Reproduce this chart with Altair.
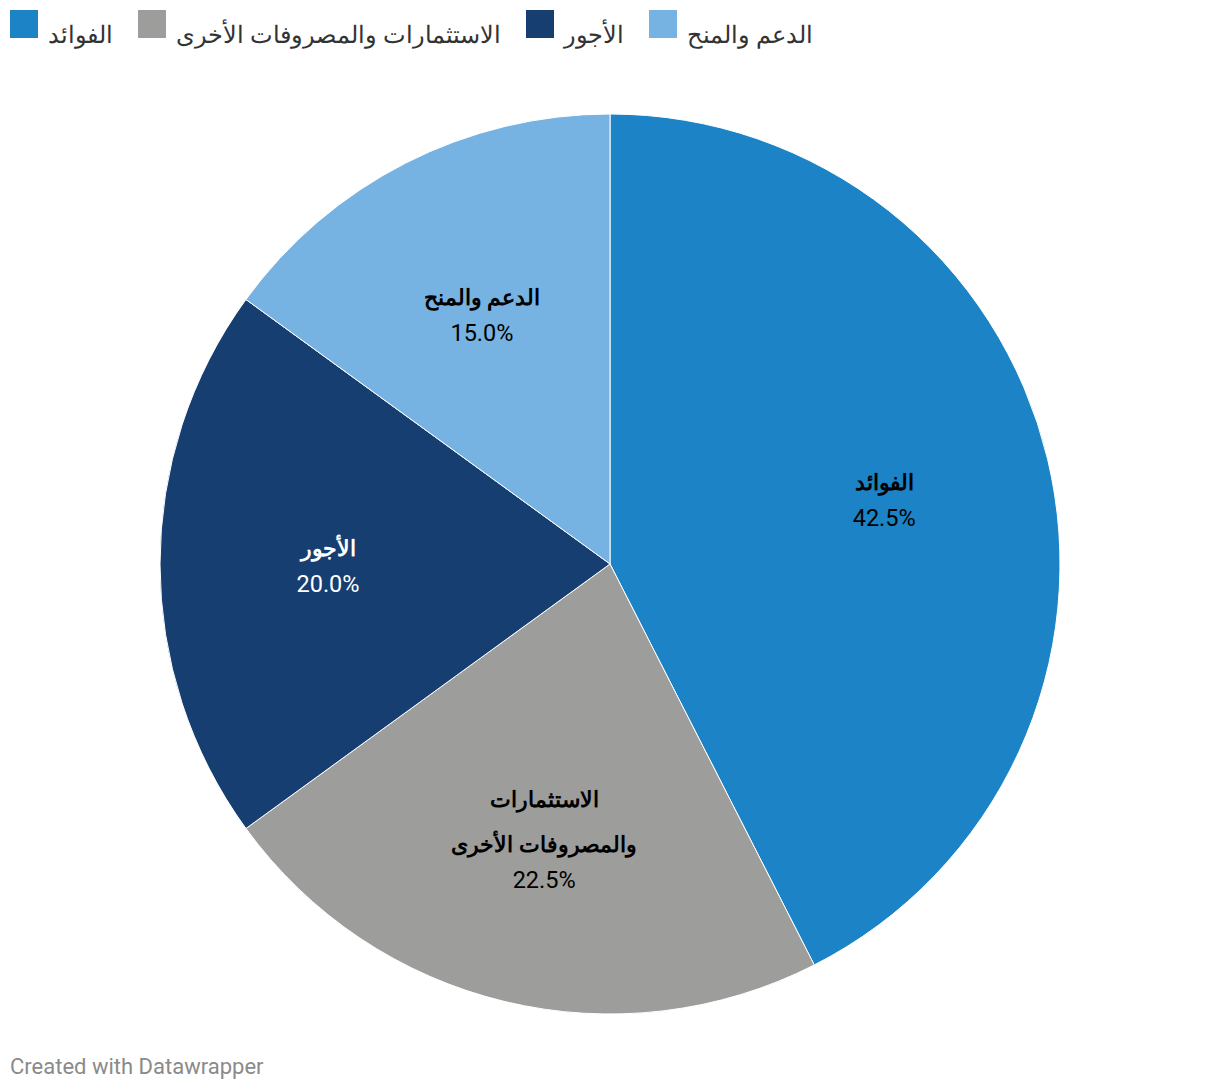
import altair as alt
import pandas as pd

categories = ["الفوائد", "الاستثمارات والمصروفات الأخرى", "الأجور", "الدعم والمنح"]
label_lines = [["الفوائد"], ["الاستثمارات", "والمصروفات الأخرى"], ["الأجور"], ["الدعم والمنح"]]
shares = [42.5, 22.5, 20.0, 15.0]
colors = ["#1b83c6", "#9d9d9c", "#173e71", "#76b3e2"]
footer = "Created with Datawrapper"

single = [len(l) == 1 for l in label_lines]
pct_text = [f"{v:.1f}%" for v in shares]

df = pd.DataFrame({
    "cat": categories,
    "share": shares,
    "idx": list(range(len(categories))),
    "s_name": [l[0] if s else "" for l, s in zip(label_lines, single)],
    "s_pct": [p if s else "" for p, s in zip(pct_text, single)],
    "d_name1": [l[0] if not s else "" for l, s in zip(label_lines, single)],
    "d_name2": [l[1] if not s else "" for l, s in zip(label_lines, single)],
    "d_pct": [p if not s else "" for p, s in zip(pct_text, single)],
})

CX, CY = 602, 556
R_LABEL = 282

base = alt.Chart(df).encode(
    theta=alt.Theta("share:Q", stack=True),
    order=alt.Order("idx:Q"),
    x=alt.value(CX),
    y=alt.value(CY),
)

pie = base.mark_arc(radius=450, stroke="white", strokeWidth=1).encode(
    color=alt.Color(
        "cat:N",
        scale=alt.Scale(domain=categories, range=colors),
        sort=categories,
        legend=alt.Legend(
            title=None,
            orient="none",
            direction="horizontal",
            legendX=2,
            legendY=2,
            padding=0,
            symbolType="square",
            symbolSize=784,
            symbolStrokeWidth=0,
            symbolOpacity=1,
            labelFontSize=24,
            labelFont="Roboto",
            labelColor="#333333",
            labelOffset=10,
            labelLimit=500,
            labelBaseline="top",
            columnPadding=25,
            columns=4,
        ),
    )
)

txt_color = alt.condition(alt.datum.cat == "الأجور", alt.value("white"), alt.value("black"))


def name_layer(field, dy):
    return base.mark_text(
        radius=R_LABEL, font="Roboto", fontSize=22, fontWeight="bold",
        baseline="middle", align="center", dy=dy,
    ).encode(text=f"{field}:N", color=txt_color)


def pct_layer(field, dy):
    return base.mark_text(
        radius=R_LABEL, font="Roboto", fontSize=23.5, fontWeight="normal",
        baseline="middle", align="center", dy=dy,
    ).encode(text=f"{field}:N", color=txt_color)


labels = [
    name_layer("s_name", -15),
    pct_layer("s_pct", 21),
    name_layer("d_name1", -38),
    name_layer("d_name2", 7),
    pct_layer("d_pct", 43),
]

foot = alt.Chart(alt.Data(values=[{"t": footer}])).mark_text(
    align="left", baseline="middle", fontSize=22, font="Roboto", color="#8a8a8a"
).encode(text="t:N", x=alt.value(2), y=alt.value(1059))

chart = alt.layer(pie, *labels, foot).properties(
    width=1204, height=1074,
    autosize=alt.AutoSizeParams(type="none"),
    padding=0,
).configure(background="white").configure_view(stroke=None)

chart.save("out.html", embed_options={"renderer": "svg", "actions": False})
